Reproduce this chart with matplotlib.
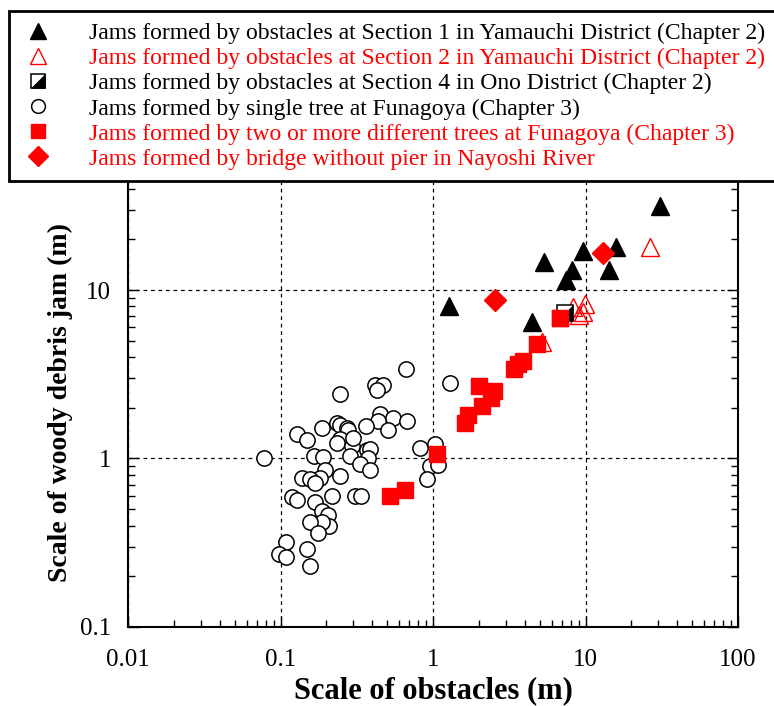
import matplotlib
matplotlib.use('Agg')
import matplotlib.pyplot as plt
from matplotlib.path import Path
from matplotlib.legend_handler import HandlerTuple
from matplotlib.ticker import FixedLocator, LogLocator, NullFormatter
import numpy as np

plt.rcParams['font.family'] = ['Liberation Serif', 'DejaVu Serif']

# Section 1, Yamauchi (black filled triangles)
sec1_x = [31, 9.7, 15.8, 5.34, 8.1, 14.3, 7.4, 1.28, 4.43]
sec1_y = [31.7, 17.1, 17.9, 14.6, 13.1, 13.1, 11.4, 8.0, 6.5]

# Section 2, Yamauchi (red open triangles)
sec2_x = [26.5, 8.3, 9.9, 9.7, 9.0, 5.17]
sec2_y = [17.9, 7.9, 8.3, 7.4, 7.1, 4.9]

# Section 4, Ono (half filled square)
sec4_x = [7.3]
sec4_y = [7.3]

# single tree at Funagoya (open circles)
single_x = [0.078, 0.67, 1.29, 0.417, 0.468, 0.428, 0.245,
            0.449, 0.549, 0.672, 0.434, 0.509, 0.364,
            0.129, 0.149, 0.186,
            0.233, 0.246, 0.271, 0.278, 0.246, 0.233, 0.293, 0.300,
            0.367, 0.386, 0.373, 0.286, 0.332, 0.386,
            0.822, 1.03, 0.956, 1.08, 0.918,
            0.166, 0.189, 0.196, 0.182, 0.138, 0.156, 0.168, 0.246,
            0.119, 0.129, 0.168, 0.217, 0.308, 0.336,
            0.186, 0.206, 0.209, 0.186, 0.156, 0.177,
            0.109, 0.098, 0.109, 0.149, 0.156]
single_y = [1.0, 3.4, 2.8, 2.74, 2.74, 2.56, 2.4,
            1.84, 1.74, 1.66, 1.68, 1.48, 1.55,
            1.40, 1.28, 1.52,
            1.62, 1.57, 1.52, 1.48, 1.31, 1.23, 1.19, 1.33,
            1.12, 1.14, 1.01, 1.04, 0.93, 0.85,
            1.15, 1.22, 0.90, 0.91, 0.76,
            1.03, 1.02, 0.85, 0.77, 0.77, 0.76, 0.72, 0.79,
            0.59, 0.57, 0.55, 0.60, 0.60, 0.60,
            0.49, 0.46, 0.40, 0.42, 0.42, 0.36,
            0.32, 0.27, 0.26, 0.29, 0.23]

# two or more trees at Funagoya (red squares)
multi_x = [0.52, 0.655, 1.07, 1.62, 1.70, 2.09, 2.01, 2.4, 2.5,
           3.40, 3.63, 3.91, 4.83, 6.8]
multi_y = [0.60, 0.65, 1.07, 1.62, 1.80, 2.06, 2.71, 2.3, 2.5,
           3.40, 3.65, 3.81, 4.75, 6.8]

# bridge without pier, Nayoshi River (red diamonds)
bridge_x = [2.55, 13.0]
bridge_y = [8.7, 16.6]

labels = ['Jams formed by obstacles at Section 1 in Yamauchi District (Chapter 2)',
          'Jams formed by obstacles at Section 2 in Yamauchi District (Chapter 2)',
          'Jams formed by obstacles at Section 4 in Ono District (Chapter 2)',
          'Jams formed by single tree at Funagoya (Chapter 3)',
          'Jams formed by two or more different trees at Funagoya (Chapter 3)',
          'Jams formed by bridge without pier in Nayoshi River']
label_colors = ['black', 'red', 'black', 'black', 'red', 'red']

red = '#ff0000'

fig = plt.figure(figsize=(7.74, 7.06), dpi=100)
ax = fig.add_axes([0.1654, 0.1119, 0.7881, 0.7160])
ax.set_xscale('log')
ax.set_yscale('log')
ax.set_xlim(0.01, 100)
ax.set_ylim(0.1, 100)

ax.grid(True, which='major', linestyle=(0, (3, 3)), color='black', linewidth=0.9)
ax.set_axisbelow(True)

h_circ, = ax.plot(single_x, single_y, 'o', ms=11, mfc='white', mec='black', mew=1.1, ls='none')
h_sq, = ax.plot(multi_x, multi_y, 's', ms=11, mfc=red, mec=red, ls='none')
h_tri, = ax.plot(sec1_x, sec1_y, '^', ms=13, mfc='black', mec='black', ls='none')
h_otri, = ax.plot(sec2_x, sec2_y, '^', ms=13, mfc='none', mec=red, mew=1.0, ls='none')

# half filled square: open square + black lower-right triangle
half = Path([(1, -1), (1, 1), (-1, -1), (1, -1)],
            [Path.MOVETO, Path.LINETO, Path.LINETO, Path.CLOSEPOLY])
h_sq4a, = ax.plot(sec4_x, sec4_y, 's', ms=11, mfc='white', mec='black', mew=1.1, ls='none')
h_sq4b, = ax.plot(sec4_x, sec4_y, marker=half, ms=11, mfc='black', mec='black', mew=0.5, ls='none')
ax.plot(multi_x[-1:], multi_y[-1:], 's', ms=11, mfc=red, mec=red, ls='none')
h_dia, = ax.plot(bridge_x, bridge_y, 'D', ms=11, mfc=red, mec=red, ls='none')

ax.xaxis.set_major_locator(FixedLocator([0.01, 0.1, 1, 10, 100]))
ax.set_xticklabels(['0.01', '0.1', '1', '10', '100'])
ax.yaxis.set_major_locator(FixedLocator([0.1, 1, 10, 100]))
ax.set_yticklabels(['0.1', '1', '10', ''])
for a in (ax.xaxis, ax.yaxis):
    a.set_minor_locator(LogLocator(base=10, subs=np.arange(2, 10)))
    a.set_minor_formatter(NullFormatter())
ax.tick_params(which='both', direction='in', top=True, right=True, labelsize=18)
ax.tick_params(axis='x', pad=16)
ax.tick_params(axis='y', pad=12)
ax.tick_params(which='major', length=8, width=1)
ax.tick_params(which='minor', length=5, width=1)
for s in ax.spines.values():
    s.set_linewidth(1.5)

ax.set_xlabel('Scale of obstacles (m)', fontsize=22, fontweight='bold')
ax.xaxis.set_label_coords(0.5, -0.098)
ax.set_ylabel('Scale of woody debris jam (m)', fontsize=20, fontweight='bold')
ax.yaxis.set_label_coords(-0.09, 0.445)

leg = fig.legend([h_tri, h_otri, (h_sq4a, h_sq4b), h_circ, h_sq, h_dia], labels,
                 handler_map={tuple: HandlerTuple(ndivide=1, pad=0)},
                 loc='upper left', bbox_to_anchor=(0.0116, 0.9844),
                 bbox_transform=fig.transFigure, borderaxespad=0,
                 fontsize=17, frameon=True, fancybox=False, framealpha=1,
                 edgecolor='black', handlelength=1.5, handletextpad=1.4,
                 labelspacing=0.15, borderpad=0.5, markerscale=0.9)
leg.get_frame().set_linewidth(2)
for t, c in zip(leg.get_texts(), label_colors):
    t.set_color(c)

fig.savefig('out.png', dpi=100)
